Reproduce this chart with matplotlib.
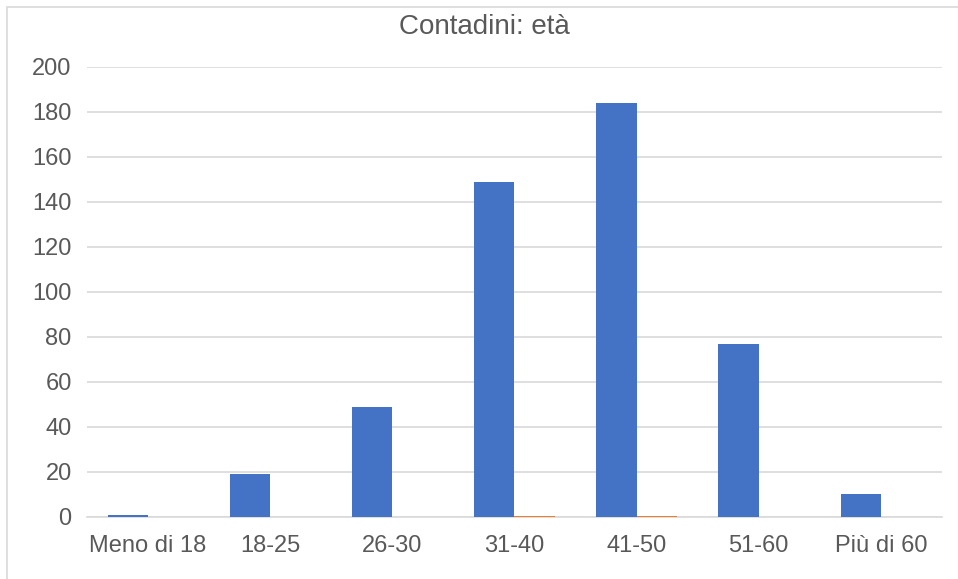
import numpy as np
import matplotlib
matplotlib.use("Agg")
from matplotlib import pyplot as plt
from matplotlib.patches import Rectangle

# fasce d'età e numero di contadini
fasce = ['Meno di 18', '18-25', '26-30', '31-40', '41-50', '51-60', 'Più di 60']
numero = [1, 19, 49, 149, 184, 77, 10]
# quota sul totale (seconda serie, quasi invisibile sulla stessa scala)
quota = [0.002, 0.04, 0.10, 0.30, 0.38, 0.16, 0.02]

blu = '#4472C4'
arancio = '#ED7D31'
grigio = '#595959'

plt.rcParams['font.family'] = ['Liberation Sans', 'DejaVu Sans']

fig = plt.figure(figsize=(9.58, 5.79), dpi=100)
ax = fig.add_axes([0.0908, 0.1071, 0.8925, 0.7772])

x = np.arange(len(fasce))
w = 0.33
ax.bar(x - w / 2, numero, w, color=blu, zorder=3)
ax.bar(x + w / 2, quota, w, color=arancio, zorder=3)

ax.set_xlim(-0.5, len(fasce) - 0.5)
ax.set_ylim(0, 200)
ax.set_yticks(range(0, 201, 20))
ax.set_xticks(x)
ax.set_xticklabels(fasce)
ax.grid(axis='y', color='#D9D9D9', linewidth=1.2, zorder=0)
for s in ['top', 'right', 'left']:
    ax.spines[s].set_visible(False)
ax.spines['bottom'].set_color('#D9D9D9')
ax.spines['bottom'].set_linewidth(1.2)
ax.tick_params(axis='both', length=0, labelsize=17, labelcolor=grigio)
ax.tick_params(axis='y', pad=11)
ax.tick_params(axis='x', pad=13)

fig.text(484 / 958, 1 - 27 / 579, 'Contadini: età', ha='center', va='center',
         fontsize=20, color=grigio)

# cornice del grafico
fig.patches.append(Rectangle((7 / 958, -0.05), 1.1, 1 - 7 / 579 + 0.05,
                             transform=fig.transFigure, fill=False,
                             edgecolor='#D9D9D9', linewidth=1.2))

fig.savefig('out.png', dpi=100)
